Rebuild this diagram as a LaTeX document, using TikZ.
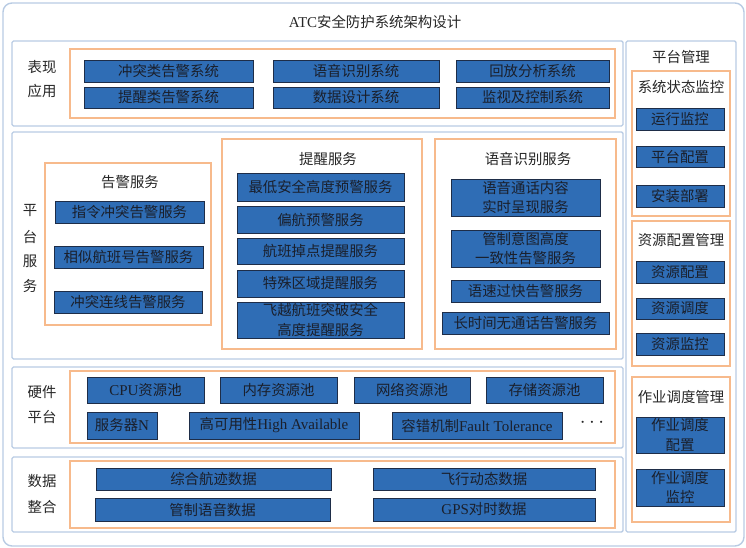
\documentclass[tikz,border=0pt]{standalone}
\usepackage{fontspec}
\newfontfamily\cjk{Noto Sans CJK SC}
\newfontfamily\lat{Liberation Serif}
\definecolor{panelc}{HTML}{B8CBE3}
\definecolor{orangec}{HTML}{F7BA8C}
\definecolor{bluef}{HTML}{2F6DB5}
\definecolor{blued}{HTML}{1E2D48}
\definecolor{txt}{HTML}{262626}
\definecolor{btxt}{HTML}{1A1F2B}
\tikzset{
  basefont/.style={font=\cjk\fontsize{14.4}{19.5}\selectfont},
  panelbox/.style={draw=panelc, line width=1.4pt, rounded corners=1.5pt, inner sep=0pt},
  orangebox/.style={draw=orangec, line width=1.4pt, inner sep=0pt},
  bluebox/.style={draw=blued, fill=bluef, line width=0.9pt, inner sep=0pt, text=btxt, align=center, basefont},
  lbl/.style={text=txt, inner sep=0pt, basefont, align=center},
}
\newcommand\lt[1]{{\lat\fontsize{15}{19.5}\selectfont #1}}
\newcommand\bx[7]{\node[#7, minimum width={(#4-#2)*1pt}, minimum height={(#5-#3)*1pt}] (#1) at ({(#2+#4)/2},{(#3+#5)/2}) {#6};}
\begin{document}
\begin{tikzpicture}[x=1pt,y=-1pt]
\useasboundingbox (0,0) rectangle (746,548);
% outer frame
\draw[panelc, line width=1.4pt, rounded corners=9pt] (3,3) rectangle (744,546);
\node[lbl] (title) at (375,22) {\lt{ATC}安全防护系统架构设计};

% panels
\bx{p1}{12}{41}{623}{126}{}{panelbox}
\bx{p2}{12}{132}{623}{359}{}{panelbox}
\bx{p3}{12}{367}{623}{448}{}{panelbox}
\bx{p4}{12}{457}{623}{532}{}{panelbox}
\bx{pm}{626}{41}{736}{532}{}{panelbox}

% layer labels
\node[lbl] (l1a) at (42,67) {表现};
\node[lbl] (l1b) at (42,91) {应用};
\node[lbl] (l2a) at (30,211) {平};
\node[lbl] (l2b) at (30,237) {台};
\node[lbl] (l2c) at (30,261) {服};
\node[lbl] (l2d) at (30,286) {务};
\node[lbl] (l3a) at (42,392) {硬件};
\node[lbl] (l3b) at (42,417) {平台};
\node[lbl] (l4a) at (42,481) {数据};
\node[lbl] (l4b) at (42,507) {整合};

% orange groups
\bx{o1}{70}{49}{615}{118}{}{orangebox}
\bx{o2a}{45}{163}{211}{325}{}{orangebox}
\bx{o2b}{222}{139}{422}{349}{}{orangebox}
\bx{o2c}{435}{139}{616}{349}{}{orangebox}
\bx{o3}{70}{371}{615}{443}{}{orangebox}
\bx{o4}{70}{461}{615}{528}{}{orangebox}
\bx{om1}{632}{71}{730}{216}{}{orangebox}
\bx{om2}{632}{221}{730}{366}{}{orangebox}
\bx{om3}{632}{377}{730}{522}{}{orangebox}

% presentation layer
\bx{a1}{84}{60}{253}{82}{冲突类告警系统}{bluebox}
\bx{a2}{273}{60}{439}{82}{语音识别系统}{bluebox}
\bx{a3}{456}{60}{609}{82}{回放分析系统}{bluebox}
\bx{a4}{84}{87}{253}{108}{提醒类告警系统}{bluebox}
\bx{a5}{273}{87}{439}{108}{数据设计系统}{bluebox}
\bx{a6}{456}{87}{609}{108}{监视及控制系统}{bluebox}

% platform services
\node[lbl] (t2a) at (130,182) {告警服务};
\bx{b1}{55}{201}{204}{223}{指令冲突告警服务}{bluebox}
\bx{b2}{54}{246}{203}{268}{相似航班号告警服务}{bluebox}
\bx{b3}{54}{291}{202}{313}{冲突连线告警服务}{bluebox}

\node[lbl] (t2b) at (328,159) {提醒服务};
\bx{c1}{237}{173}{404}{201}{最低安全高度预警服务}{bluebox}
\bx{c2}{237}{206}{404}{233}{偏航预警服务}{bluebox}
\bx{c3}{237}{238}{404}{264}{航班掉点提醒服务}{bluebox}
\bx{c4}{237}{270}{404}{297}{特殊区域提醒服务}{bluebox}
\bx{c5}{237}{302}{404}{338}{飞越航班突破安全\\高度提醒服务}{bluebox}

\node[lbl] (t2c) at (528,159) {语音识别服务};
\bx{d1}{451}{179}{600}{216}{语音通话内容\\实时呈现服务}{bluebox}
\bx{d2}{451}{230}{600}{267}{管制意图高度\\一致性告警服务}{bluebox}
\bx{d3}{451}{280}{600}{302}{语速过快告警服务}{bluebox}
\bx{d4}{442}{312}{609}{334}{长时间无通话告警服务}{bluebox}

% hardware
\bx{e1}{87}{377}{204}{403}{\lt{CPU}资源池}{bluebox}
\bx{e2}{220}{377}{337}{403}{内存资源池}{bluebox}
\bx{e3}{354}{377}{470}{403}{网络资源池}{bluebox}
\bx{e4}{486}{377}{603}{403}{存储资源池}{bluebox}
\bx{e5}{87}{412}{157}{439}{服务器\lt{N}}{bluebox}
\bx{e6}{189}{412}{359}{439}{高可用性\lt{High Available}}{bluebox}
\bx{e7}{392}{412}{562}{439}{容错机制\lt{Fault Tolerance}}{bluebox}
\node[lbl, font=\lat\fontsize{22}{22}\selectfont] (dots) at (592,423) {$\cdots$};

% data
\bx{f1}{96}{468}{331}{490}{综合航迹数据}{bluebox}
\bx{f2}{95}{498}{330}{521}{管制语音数据}{bluebox}
\bx{f3}{373}{468}{595}{490}{飞行动态数据}{bluebox}
\bx{f4}{373}{498}{595}{521}{\lt{GPS}对时数据}{bluebox}

% platform management
\node[lbl] (tm) at (681,57) {平台管理};
\node[lbl] (tm1) at (681,87) {系统状态监控};
\bx{g1}{636}{108}{724}{130}{运行监控}{bluebox}
\bx{g2}{636}{146}{724}{167}{平台配置}{bluebox}
\bx{g3}{636}{185}{724}{207}{安装部署}{bluebox}
\node[lbl] (tm2) at (681,240) {资源配置管理};
\bx{g4}{636}{261}{724}{283}{资源配置}{bluebox}
\bx{g5}{636}{298}{724}{319}{资源调度}{bluebox}
\bx{g6}{636}{333}{724}{355}{资源监控}{bluebox}
\node[lbl] (tm3) at (681,397) {作业调度管理};
\bx{g7}{636}{417}{724}{453}{作业调度\\配置}{bluebox}
\bx{g8}{636}{469}{724}{506}{作业调度\\监控}{bluebox}
\end{tikzpicture}
\end{document}
